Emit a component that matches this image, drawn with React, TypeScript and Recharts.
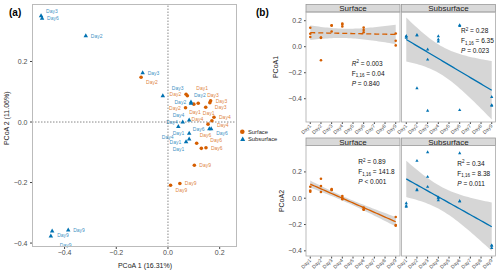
import React from "react";
import {
  ScatterChart,
  ComposedChart,
  Scatter,
  Area,
  Line,
  XAxis,
  YAxis,
  ReferenceLine,
} from "recharts";

const ORANGE = "#D55E00";
const BLUE = "#0072B2";
const FONT = '"Liberation Sans", Arial, Helvetica, sans-serif';

// sampling day of each replicate (same order for both layers)
const sampleDays = [1, 1, 1, 2, 2, 2, 3, 3, 3, 4, 4, 4, 6, 6, 6, 9, 9, 9];

const surfacePC1 = [
  0.075, 0.146, 0.1, -0.104, 0.07, 0.068, 0.117, 0.162, 0.165, 0.178, 0.17,
  0.155, 0.111, 0.129, 0.147, 0.102, 0.046, 0.01,
];
const surfacePC2 = [
  0.087, 0.049, 0.059, 0.148, 0.092, 0.047, 0.062, 0.064, 0.07, 0.016, 0.004,
  -0.007, -0.07, -0.087, -0.085, -0.143, -0.203, -0.209,
];
const subsurfacePC1 = [
  0.082, 0.082, 0.07, 0.089, 0.089, -0.318, -0.098, -0.02, -0.491, 0.082,
  0.057, 0.04, 0.16, 0.167, -0.487, -0.448, -0.453, -0.386,
];
const subsurfacePC2 = [
  -0.037, -0.056, -0.065, 0.062, 0.066, 0.285, 0.163, 0.087, 0.351, 0.007, 0,
  -0.015, -0.022, -0.022, 0.343, -0.36, -0.377, -0.357,
];

const dayTicks = [1, 2, 3, 4, 5, 6, 7, 8, 9];
const pcoaTicks = [-0.4, -0.2, 0, 0.2];

// regression summaries printed in panel (b): TL, TR, BL, BR
const statR2 = ["0.003", "0.28", "0.89", "0.34"];
const statF = ["0.04", "6.35", "141.8", "8.38"];
const statP = ["= 0.840", "= 0.023", "< 0.001", "= 0.011"];

const fmt = (v: number) => (v < 0 ? "\u2212" : "") + Math.abs(v).toFixed(1);

function lmBand(xs: number[], ys: number[]) {
  const n = xs.length;
  const mx = xs.reduce((a, b) => a + b, 0) / n;
  const my = ys.reduce((a, b) => a + b, 0) / n;
  let sxx = 0;
  let sxy = 0;
  xs.forEach((x, i) => {
    sxx += (x - mx) ** 2;
    sxy += (x - mx) * (ys[i] - my);
  });
  const b = sxy / sxx;
  const a = my - b * mx;
  const sse = xs.reduce((s, x, i) => s + (ys[i] - a - b * x) ** 2, 0);
  const s = Math.sqrt(sse / (n - 2));
  const t = 2.12; // qt(0.975, 16)
  const out: { x: number; fit: number; band: number[] }[] = [];
  for (let k = 0; k <= 40; k++) {
    const x = 1 + (8 * k) / 40;
    const fit = a + b * x;
    const w = t * s * Math.sqrt(1 / n + (x - mx) ** 2 / sxx);
    out.push({ x, fit, band: [fit - w, fit + w] });
  }
  return out;
}

const triPath = (cx: number, cy: number, r: number) =>
  `M${cx},${cy - r}L${cx + r * 0.9},${cy + r * 0.6}L${cx - r * 0.9},${cy + r * 0.6}Z`;

// ordination panel geometry
const A_X = [-0.526, 0.267];
const A_Y = [-0.413, 0.39];
const A_BOX = { left: 32, top: 4, width: 205, height: 243 };

// crude ggrepel: greedy label placement that avoids earlier labels and points
function repelLabels() {
  const toPx = (x: number, y: number) => [
    A_BOX.left + ((x - A_X[0]) / (A_X[1] - A_X[0])) * A_BOX.width,
    A_BOX.top + ((A_Y[1] - y) / (A_Y[1] - A_Y[0])) * A_BOX.height,
  ];
  const items: { key: string; px: number; py: number }[] = [];
  sampleDays.forEach((_, i) => {
    const [a, b] = toPx(surfacePC1[i], surfacePC2[i]);
    items.push({ key: `s${i}`, px: a, py: b });
    const [c, d] = toPx(subsurfacePC1[i], subsurfacePC2[i]);
    items.push({ key: `b${i}`, px: c, py: d });
  });
  const W = 12.5;
  const H = 4.8;
  const boxes: number[][] = items.map((it) => [it.px - 2, it.py - 2, it.px + 2, it.py + 2]);
  const cands = [
    [5, 2], [5, -2.5], [5, 6.5], [9, -6], [9, 10.5], [3, -6.5], [3, 11],
    [-16.5, 2], [14, 2], [14, -4], [14, 8], [-16.5, -3], [-16.5, 7], [20, -8], [20, 12],
    [5, 15], [5, -10], [-16.5, 12], [-16.5, -8], [24, 2], [24, -4], [24, 8],
  ];
  const over = (r: number[]) =>
    boxes.reduce((s, q) => {
      const w = Math.min(r[2], q[2]) - Math.max(r[0], q[0]);
      const h = Math.min(r[3], q[3]) - Math.max(r[1], q[1]);
      return s + (w > 0 && h > 0 ? w * h : 0);
    }, 0);
  const res: Record<string, number[]> = {};
  const order = [...items].sort((p, q) => q.px - p.px);
  order.forEach((it) => {
    let best = cands[0];
    let bestS = Infinity;
    for (const c of cands) {
      const r = [it.px + c[0], it.py + c[1] - H, it.px + c[0] + W, it.py + c[1] + 0.5];
      const s = over(r) + (r[2] > 236 ? 50 : 0);
      if (s < bestS - 0.01) {
        bestS = s;
        best = c;
      }
      if (s === 0) break;
    }
    res[it.key] = best;
    boxes.push([it.px + best[0], it.py + best[1] - H, it.px + best[0] + W, it.py + best[1] + 0.5]);
  });
  return res;
}
const labelOffsets = repelLabels();

const ordShape = (color: string, kind: "circle" | "tri") => (p: any) => {
  const off = labelOffsets[p.payload.id] || [5, 2];
  return (
    <g>
      {kind === "circle" ? (
        <circle cx={p.cx} cy={p.cy} r={1.8} fill={color} />
      ) : (
        <path d={triPath(p.cx, p.cy, 2.5)} fill={color} />
      )}
      <text
        x={p.cx + off[0]}
        y={p.cy + off[1]}
        fontSize={5}
        fill={color}
        fillOpacity={0.8}
        fontFamily={FONT}
      >
        {`Day${p.payload.day}`}
      </text>
    </g>
  );
};

const facetShape = (color: string, kind: "circle" | "tri") => (p: any) =>
  kind === "circle" ? (
    <circle cx={p.cx} cy={p.cy} r={1.3} fill={color} />
  ) : (
    <path d={triPath(p.cx, p.cy, 1.8)} fill={color} />
  );

function PanelA() {
  const surf = sampleDays.map((d, i) => ({ x: surfacePC1[i], y: surfacePC2[i], day: d, id: `s${i}` }));
  const sub = sampleDays.map((d, i) => ({ x: subsurfacePC1[i], y: subsurfacePC2[i], day: d, id: `b${i}` }));
  return (
    <div style={{ position: "absolute", left: 0, top: 0 }}>
      <ScatterChart
        width={A_BOX.left + A_BOX.width + 3}
        height={273}
        margin={{ top: A_BOX.top, right: 3, bottom: 0, left: 0 }}
      >
        <XAxis
          type="number"
          dataKey="x"
          domain={A_X}
          ticks={pcoaTicks}
          tickFormatter={fmt}
          height={273 - A_BOX.top - A_BOX.height}
          tickSize={2}
          tickMargin={1}
          axisLine={false}
          tickLine={{ stroke: "#444" }}
          tick={{ fontSize: 7, fill: "#4d4d4d", fontFamily: FONT }}
        />
        <YAxis
          type="number"
          dataKey="y"
          domain={A_Y}
          ticks={pcoaTicks}
          tickFormatter={fmt}
          width={A_BOX.left}
          tickSize={2}
          tickMargin={2.5}
          axisLine={false}
          tickLine={{ stroke: "#444" }}
          tick={{ fontSize: 7, fill: "#4d4d4d", fontFamily: FONT }}
        />
        <ReferenceLine x={0} stroke="#888" strokeDasharray="1.5 1.5" />
        <ReferenceLine y={0} stroke="#888" strokeDasharray="1.5 1.5" />
        <Scatter data={surf} shape={ordShape(ORANGE, "circle")} isAnimationActive={false} />
        <Scatter data={sub} shape={ordShape(BLUE, "tri")} isAnimationActive={false} />
      </ScatterChart>
    </div>
  );
}

type FacetCfg = {
  left: number;
  top: number;
  width: number;
  height: number;
  domain: number[];
  days: number[];
  values: number[];
  color: string;
  kind: "circle" | "tri";
  dashed: boolean;
  showY: boolean;
};

const DayTick = (p: any) => (
  <text
    x={p.x}
    y={p.y}
    dy="0.35em"
    transform={`rotate(-45 ${p.x} ${p.y})`}
    textAnchor="end"
    fontSize={5}
    fill="#4d4d4d"
    fontFamily={FONT}
  >
    {`Day${p.payload.value}`}
  </text>
);

function Facet({ f }: { f: FacetCfg }) {
  const yW = f.showY ? 24 : 0;
  const pad = f.showY ? 0 : 12;
  const pts = f.days.map((d, i) => ({ x: d, y: f.values[i] }));
  const band = lmBand(f.days, f.values);
  return (
    <div style={{ position: "absolute", left: f.left - yW - pad, top: f.top }}>
      <ComposedChart
        width={f.width + yW + pad}
        height={f.height + 16}
        margin={{ top: 0, right: 0, bottom: 0, left: pad }}
      >
        <XAxis
          type="number"
          dataKey="x"
          domain={[0.6, 9.4]}
          ticks={dayTicks}
          interval={0}
          height={16}
          tickSize={2}
          tickMargin={1}
          axisLine={false}
          tickLine={{ stroke: "#444" }}
          tick={DayTick}
        />
        <YAxis
          type="number"
          domain={f.domain}
          ticks={pcoaTicks}
          tickFormatter={fmt}
          hide={!f.showY}
          width={yW}
          tickSize={2}
          tickMargin={2}
          axisLine={false}
          tickLine={{ stroke: "#444" }}
          tick={{ fontSize: 7, fill: "#4d4d4d", fontFamily: FONT }}
        />
        <Area
          data={band}
          dataKey="band"
          type="linear"
          stroke="none"
          fill="#999"
          fillOpacity={0.4}
          isAnimationActive={false}
        />
        <Scatter data={pts} dataKey="y" shape={facetShape(f.color, f.kind)} isAnimationActive={false} />
        <Line
          data={band}
          dataKey="fit"
          type="linear"
          stroke={f.color}
          strokeWidth={1.3}
          strokeDasharray={f.dashed ? "5 3" : undefined}
          dot={false}
          activeDot={false}
          isAnimationActive={false}
        />
      </ComposedChart>
    </div>
  );
}

const topDomain = [-0.579, 0.267];
const botDomain = [-0.443, 0.397];

const facets: FacetCfg[] = [
  { left: 306, top: 12, width: 94, height: 110, domain: topDomain, days: sampleDays, values: surfacePC1, color: ORANGE, kind: "circle", dashed: true, showY: true },
  { left: 401.5, top: 12, width: 94, height: 110, domain: topDomain, days: sampleDays, values: subsurfacePC1, color: BLUE, kind: "tri", dashed: false, showY: false },
  { left: 306, top: 145.5, width: 94, height: 110.5, domain: botDomain, days: sampleDays, values: surfacePC2, color: ORANGE, kind: "circle", dashed: false, showY: true },
  { left: 401.5, top: 145.5, width: 94, height: 110.5, domain: botDomain, days: sampleDays, values: subsurfacePC2, color: BLUE, kind: "tri", dashed: false, showY: false },
];
const stripNames = ["Surface", "Subsurface", "Surface", "Subsurface"];
const statPos = [
  [351.7, 65.5],
  [461, 33],
  [358.3, 164],
  [457.3, 165.5],
];

function Stats({ i }: { i: number }) {
  const [x, y] = statPos[i];
  const fs = 6.5;
  return (
    <g fontSize={fs} fill="#111" fontFamily={FONT}>
      <text x={x} y={y}>
        <tspan fontStyle={i === 0 ? "italic" : "normal"}>R</tspan>
        <tspan dy={-2.5} fontSize={4.5}>2</tspan>
        <tspan dy={2.5}>{` =  ${statR2[i]}`}</tspan>
      </text>
      <text x={x} y={y + 10}>
        F<tspan dy={1.5} fontSize={4.5}>1,16</tspan>
        <tspan dy={-1.5}>{` =  ${statF[i]}`}</tspan>
      </text>
      <text x={x} y={y + 20}>
        <tspan fontStyle="italic">P</tspan>
        {` ${statP[i]}`}
      </text>
    </g>
  );
}

export default function App() {
  return (
    <div
      style={{
        position: "absolute",
        left: 0,
        top: 0,
        width: 500,
        height: 273,
        background: "#fff",
        overflow: "hidden",
        fontFamily: FONT,
      }}
    >
      <PanelA />
      {facets.map((f, i) => (
        <Facet key={i} f={f} />
      ))}
      <svg
        width={500}
        height={273}
        style={{ position: "absolute", left: 0, top: 0, pointerEvents: "none" }}
        fontFamily={FONT}
      >
        <text x={9} y={16} fontSize={10} fontWeight="bold" fill="#000">(a)</text>
        <text x={256} y={15.5} fontSize={10} fontWeight="bold" fill="#000">(b)</text>
        <rect x={32.5} y={4.5} width={204} height={242} fill="none" stroke="#bbb" />
        <text x={145} y={267.5} fontSize={7} fill="#222" textAnchor="middle">PCoA 1 (16.31%)</text>
        <text
          x={7}
          y={118.3}
          dy="0.35em"
          fontSize={7}
          fill="#222"
          textAnchor="middle"
          transform="rotate(-90 7 118.3)"
        >
          PCoA 2 (11.06%)
        </text>
        <circle cx={242.3} cy={131.7} r={2.3} fill={ORANGE} />
        <path d={triPath(242.7, 139.3, 2.8)} fill={BLUE} />
        <text x={248} y={133.8} fontSize={5.8} fill="#222">Surface</text>
        <text x={248} y={141.3} fontSize={5.8} fill="#222">Subsurface</text>

        {facets.map((f, i) => (
          <g key={i}>
            <rect
              x={f.left}
              y={f.top - 7.5}
              width={f.width}
              height={7.5}
              fill="#d9d9d9"
              stroke="#999"
              strokeWidth={0.8}
            />
            <text
              x={f.left + f.width / 2}
              y={f.top - 3.75}
              dy="0.35em"
              fontSize={8}
              fill="#1a1a1a"
              textAnchor="middle"
            >
              {stripNames[i]}
            </text>
            <rect x={f.left} y={f.top} width={f.width} height={f.height} fill="none" stroke="#aaa" strokeWidth={0.8} />
            <Stats i={i} />
          </g>
        ))}
        <text x={276} y={67} dy="0.35em" fontSize={7} fill="#222" textAnchor="middle" transform="rotate(-90 276 67)">
          PCoA1
        </text>
        <text x={281.7} y={201} dy="0.35em" fontSize={7} fill="#222" textAnchor="middle" transform="rotate(-90 281.7 201)">
          PCoA2
        </text>
      </svg>
    </div>
  );
}
